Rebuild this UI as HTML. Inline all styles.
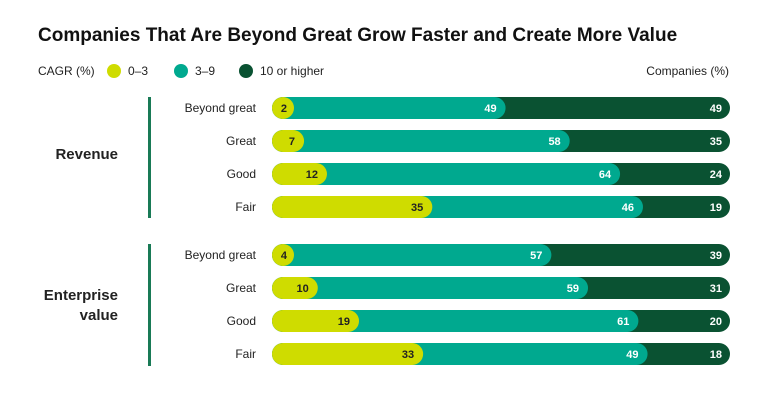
<!DOCTYPE html>
<html><head><meta charset="utf-8"><style>
body{margin:0;background:#fff;font-family:"Liberation Sans",sans-serif;}
svg text{font-family:"Liberation Sans",sans-serif;}
</style></head><body>
<svg width="768" height="406">
<text x="38" y="41" font-size="19" font-weight="bold" fill="#111">Companies That Are Beyond Great Grow Faster and Create More Value</text>
<g font-size="12" fill="#222">
<text x="38" y="75">CAGR (%)</text>
<circle cx="114" cy="71" r="7" fill="#cfdc00"/><text x="128" y="75">0–3</text>
<circle cx="181" cy="71" r="7" fill="#00a98f"/><text x="195" y="75">3–9</text>
<circle cx="246" cy="71" r="7" fill="#0a5232"/><text x="260" y="75">10 or higher</text>
<text x="729" y="75" text-anchor="end">Companies (%)</text>
</g>
<rect x="148" y="97" width="3" height="121" fill="#197a56"/>
<rect x="148" y="244" width="3" height="122" fill="#197a56"/>
<text x="118" y="159" font-size="15" font-weight="bold" text-anchor="end" fill="#222">Revenue</text>
<text x="118" y="300" font-size="15" font-weight="bold" text-anchor="end" fill="#222">Enterprise</text>
<text x="118" y="320" font-size="15" font-weight="bold" text-anchor="end" fill="#222">value</text>
<g id="bars"></g>
</svg>
<script>
const categories=["Beyond great","Great","Good","Fair","Beyond great","Great","Good","Fair"];
const low=[2,7,12,35,4,10,19,33];
const mid=[49,58,64,46,57,59,61,49];
const high=[49,35,24,19,39,31,20,18];
const rowY=[108,141,174,207,255,288,321,354];
const X0=272,W=458,H=22;
const sx=v=>v/100*W;
const g=document.getElementById('bars');
const NS='http://www.w3.org/2000/svg';
function mk(t,a){const e=document.createElementNS(NS,t);for(const k in a)e.setAttribute(k,a[k]);g.appendChild(e);return e;}
categories.forEach((c,i)=>{
  const y=rowY[i]-H/2;
  const lab=mk('text',{x:256,y:rowY[i]+4,'font-size':12,'text-anchor':'end',fill:'#222'});lab.textContent=c;
  
  
  const d=mk('rect',{x:X0,y:y,width:W,height:H,rx:H/2,fill:'#0a5232'});
  
  
  const wm=Math.max(sx(low[i]+mid[i]),H);
  const m=mk('rect',{x:X0,y:y,width:wm,height:H,rx:H/2,fill:'#00a98f'});
  
  
  const wl=Math.max(sx(low[i]),H);
  const l=mk('rect',{x:X0,y:y,width:wl,height:H,rx:H/2,fill:'#cfdc00'});
  
  
  const t1=mk('text',{x:X0+wl-(low[i]<5?7:9),y:rowY[i]+4,'font-size':11,'font-weight':'bold','text-anchor':'end',fill:'#222'});t1.textContent=low[i];
  
  
  const t2=mk('text',{x:X0+wm-9,y:rowY[i]+4,'font-size':11,'font-weight':'bold','text-anchor':'end',fill:'#fff'});t2.textContent=mid[i];
  
  
  const t3=mk('text',{x:X0+W-8,y:rowY[i]+4,'font-size':11,'font-weight':'bold','text-anchor':'end',fill:'#fff'});t3.textContent=high[i];
  
  
});
</script>
</body></html>
